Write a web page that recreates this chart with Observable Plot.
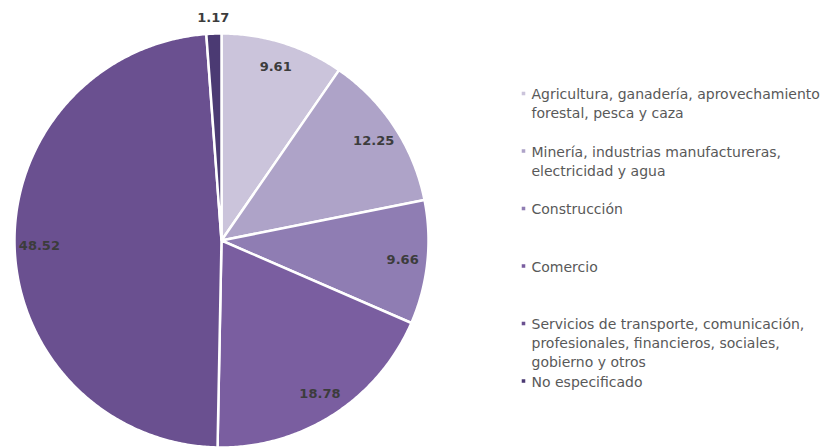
<!DOCTYPE html>
<html>
<head>
<meta charset="utf-8">
<script src="https://cdn.jsdelivr.net/npm/d3@7"></script>
<script src="https://cdn.jsdelivr.net/npm/@observablehq/plot@0.6"></script>
<style>
  html, body { margin: 0; padding: 0; background: #ffffff; }
  #chart { width: 840px; height: 447px; }
</style>
</head>
<body>
<div id="chart"></div>
<script>
// ---- data ----
const categories = [
  "Agricultura, ganadería, aprovechamiento\nforestal, pesca y caza",
  "Minería, industrias manufactureras,\nelectricidad y agua",
  "Construcción",
  "Comercio",
  "Servicios de transporte, comunicación,\nprofesionales, financieros, sociales,\ngobierno y otros",
  "No especificado"
];
const values = [9.61, 12.25, 9.66, 18.78, 48.52, 1.17];
const valueLabels = ["9.61", "12.25", "9.66", "18.78", "48.52", "1.17"];
const colors = ["#cbc4db", "#aea3c8", "#8f7db3", "#7a5ea0", "#6a5090", "#4b3a73"];

// ---- layout ----
const W = 840, H = 447;
const cx = 221, cy = 240, R = 207;
const legendX = 531, legendY0 = 93, legendStep = 57.5;

const total = d3.sum(values);
let acc = 0;
const slices = values.map((v, i) => {
  const a0 = acc / total * 2 * Math.PI;
  acc += v;
  const a1 = acc / total * 2 * Math.PI;
  return {i, v, a0, a1, name: categories[i], color: colors[i], label: valueLabels[i]};
});

function pt(a, r) { return [cx + r * Math.sin(a), cy - r * Math.cos(a)]; }

function slicePoints(s) {
  const pts = [{x: cx, y: cy}];
  const n = Math.max(2, Math.ceil((s.a1 - s.a0) / (Math.PI / 360)));
  for (let k = 0; k <= n; k++) {
    const a = s.a0 + (s.a1 - s.a0) * k / n;
    const [x, y] = pt(a, R);
    pts.push({x, y});
  }
  return pts;
}

const labelData = slices.map(s => {
  const am = (s.a0 + s.a1) / 2;
  const rr = s.v < 3 ? R * 1.075 : R * 0.88;
  const [x, y] = pt(am, rr);
  return {x, y, label: s.label};
});

const legendData = categories.map((c, i) => ({
  x: legendX, y: legendY0 + i * legendStep, text: c, color: colors[i]
}));

const marks = [];
slices.forEach(s => {
  marks.push(Plot.line(slicePoints(s), {
    x: "x", y: "y", curve: "linear-closed",
    fill: s.color, stroke: "#ffffff", strokeWidth: 2.5, strokeLinejoin: "round"
  }));
});
marks.push(Plot.text(labelData, {
  x: "x", y: "y", text: "label",
  fill: "#3c3c3c", fontSize: 13, fontWeight: "bold"
}));
marks.push(Plot.dot(legendData, {
  x: d => d.x - 8, y: "y", symbol: "square", r: 2, fill: "color", stroke: null
}));
marks.push(Plot.text(legendData, {
  x: "x", y: "y", text: "text", textAnchor: "start", lineAnchor: "top",
  dy: -8, lineHeight: 1.36, fill: "#595959", fontSize: 14
}));

const chart = Plot.plot({
  width: W, height: H,
  marginTop: 0, marginBottom: 0, marginLeft: 0, marginRight: 0,
  x: {domain: [0, W], range: [0, W], axis: null},
  y: {domain: [0, H], range: [0, H], axis: null},
  color: {type: "identity"},
  style: {fontFamily: "DejaVu Sans", background: "#ffffff", overflow: "visible"},
  marks
});
document.getElementById("chart").appendChild(chart);
</script>
</body>
</html>
